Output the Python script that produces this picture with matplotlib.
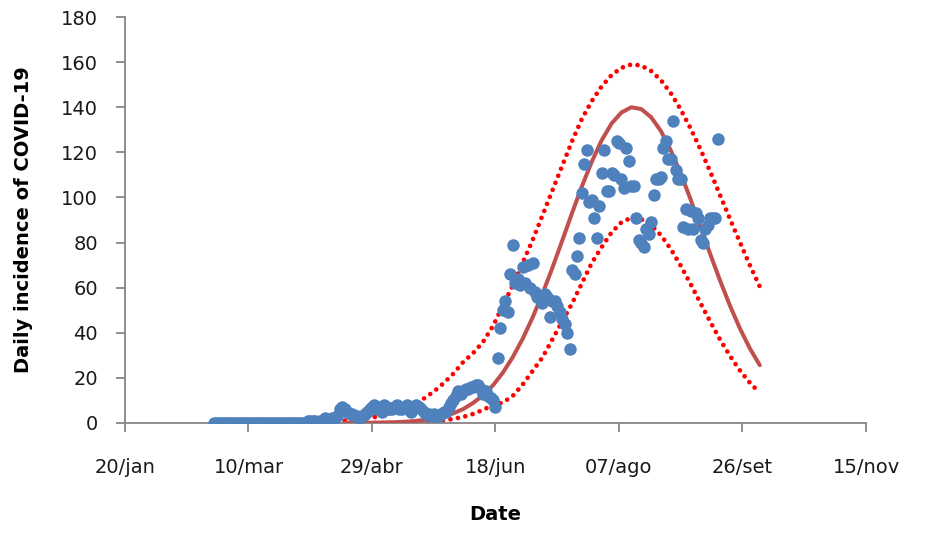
import numpy as np
import matplotlib
matplotlib.use("Agg")
import matplotlib.pyplot as plt

# --- data ---
start = np.datetime64("2020-01-20")

# daily observed incidence, one value per day starting 25/feb
obs_start = np.datetime64("2020-02-25")
incidence = (
    [0] * 38
    + [1, 1, 1, 1, 0, 1, 1, 2, 1, 1, 2, 2]
    + [3, 6, 7, 6, 5, 4, 4, 3, 3, 2, 3, 4, 5, 6, 7, 8, 6, 7, 5, 8,
       7, 6, 6, 7, 8, 6, 6, 7, 8, 7, 5, 7, 8, 7, 6, 5, 4, 4, 3, 4,
       3, 3, 4, 5, 5, 7, 9, 10, 12, 14, 13, 14, 15, 15, 16, 16, 17, 17, 15, 13,
       14, 12, 11, 10, 7]
    + [29, 42, 50, 54, 49, 66, 79, 62, 64, 61,
       69, 62, 70, 60, 71, 58, 56, 55, 53, 57,
       56, 47, 54, 54, 52, 49, 46, 44, 40, 33,
       68, 66, 74, 82, 102, 115, 121, 98, 99, 91,
       82, 96, 111, 121, 103, 103, 111, 110, 125, 124,
       108, 104, 122, 116, 105, 105, 91, 81, 80, 78,
       86, 84, 89, 101, 108, 108, 109, 122, 125, 117,
       117, 134, 112, 108, 108, 87, 95, 86, 94, 86,
       93, 91, 81, 80, 86, 88, 91, 91, 91, 126]
)

# model curve and its band, sampled every 4 days from 18/abr
model_start = np.datetime64("2020-04-18")
model_mid = [0.0, 0.0, 0.1, 0.1, 0.2, 0.3, 0.5, 0.8, 1.3, 1.9,
             2.9, 4.3, 6.2, 8.9, 12.3, 16.7, 22.3, 29.2, 37.3, 46.7,
             57.2, 68.7, 80.8, 93.1, 105.0, 115.9, 125.4, 132.8, 137.7, 140.0,
             139.2, 135.6, 129.4, 120.8, 110.6, 99.1, 86.9, 74.7, 62.9, 51.8,
             41.8, 33.0, 25.6]
model_upper = [1.0, 1.4, 1.9, 2.6, 3.6, 4.8, 6.4, 8.4, 10.8, 13.9,
               17.6, 21.9, 27.1, 31.0, 36.0, 43.0, 52.0, 61.0, 71.0, 81.0,
               92.0, 103.0, 114.0, 125.0, 134.9, 142.8, 149.3, 154.3, 157.5, 159.0,
               158.5, 156.1, 152.0, 146.2, 139.0, 130.6, 121.3, 111.3, 100.8, 90.3,
               80.0, 69.9, 60.5]
model_lower = [0.0, 0.0, 0.0, 0.0, 0.0, 0.1, 0.2, 0.3, 0.4, 0.7,
               1.1, 1.8, 2.7, 4.0, 5.8, 8.0, 9.0, 12.0, 17.0, 23.0,
               29.0, 37.0, 45.0, 53.0, 62.0, 71.0, 78.0, 84.5, 89.0, 91.0,
               90.4, 87.8, 83.2, 77.1, 69.7, 61.6, 53.1, 44.8, 36.8, 29.6,
               23.2, 17.8, 13.3]

tick_dates = ["2020-01-20", "2020-03-10", "2020-04-29", "2020-06-18",
              "2020-08-07", "2020-09-26", "2020-11-15"]
tick_labels = ["20/jan", "10/mar", "29/abr", "18/jun", "07/ago", "26/set", "15/nov"]

# --- x as days since 20/jan ---
obs_days = (obs_start - start).astype(int) + np.arange(len(incidence))
model_days = (model_start - start).astype(int) + 4 * np.arange(len(model_mid))
tick_pos = [(np.datetime64(d) - start).astype(int) for d in tick_dates]

fig = plt.figure(figsize=(9.27, 5.34), dpi=100)
ax = fig.add_axes([0.1348, 0.208, 0.7994, 0.760])

dot_style = dict(color="#FF0000", lw=3.4, linestyle=(0, (0.001, 1.6)),
                 dash_capstyle="round", zorder=2)
ax.plot(model_days, model_upper, **dot_style)
ax.plot(model_days, model_lower, **dot_style)
ax.plot(model_days, model_mid, color="#C0504D", lw=2.9, zorder=3,
        solid_capstyle="round")
ax.plot(obs_days, incidence, "o", color="#4F81BD", markersize=9,
        markeredgewidth=0, zorder=4)

ax.set_xlim(tick_pos[0], tick_pos[-1])
ax.set_ylim(0, 180)
ax.set_yticks(range(0, 181, 20))
ax.set_xticks(tick_pos)
ax.set_xticklabels(tick_labels)

for s in ["top", "right"]:
    ax.spines[s].set_visible(False)
for s in ["left", "bottom"]:
    ax.spines[s].set_color("#868686")
    ax.spines[s].set_linewidth(1.3)
ax.spines["left"].set_zorder(1)

ax.tick_params(axis="both", direction="out", length=6.5, width=1.3,
               color="#868686", labelsize=14, labelcolor="#1a1a1a")
ax.tick_params(axis="x", pad=19)
ax.tick_params(axis="y", pad=13)

ax.set_xlabel("Date", fontsize=14, fontweight="bold", labelpad=20)
ax.set_ylabel("Daily incidence of COVID-19", fontsize=14,
              fontweight="bold", labelpad=20)

fig.savefig("out.png", dpi=100)
